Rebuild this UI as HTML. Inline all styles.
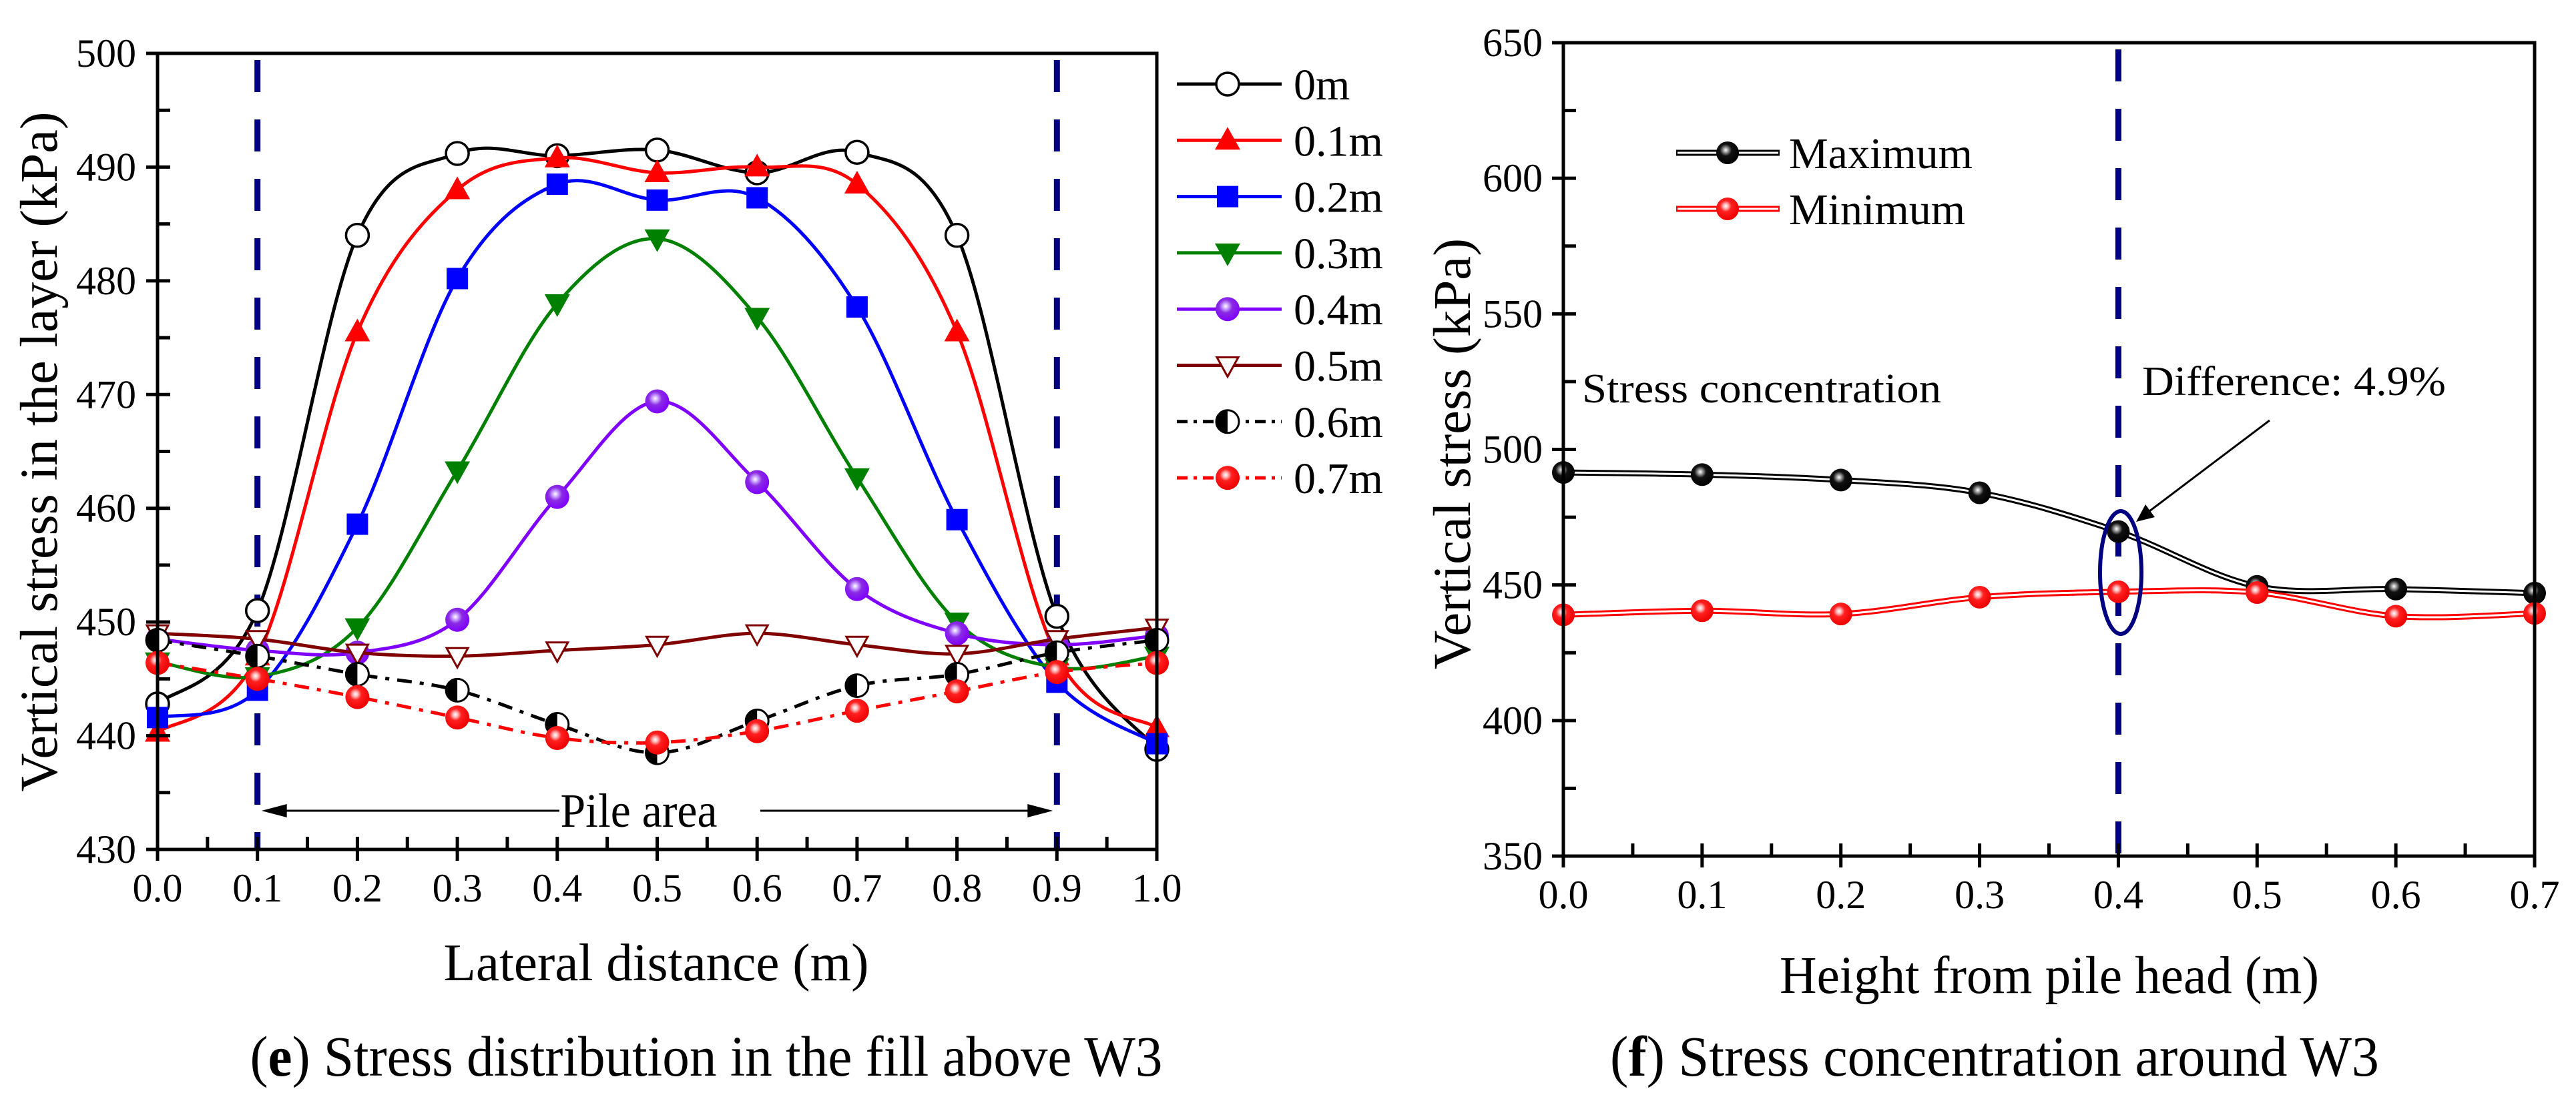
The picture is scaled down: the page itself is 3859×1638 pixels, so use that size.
<!DOCTYPE html>
<html><head><meta charset="utf-8">
<style>
html,body{margin:0;padding:0;background:#fff;}
svg{display:block;}
svg text{font-family:"Liberation Serif","DejaVu Serif",serif;fill:#000;}
</style></head>
<body>
<svg id="fig" width="3859" height="1638" viewBox="0 0 3859 1638" xmlns="http://www.w3.org/2000/svg" font-family="'Liberation Serif', 'DejaVu Serif', serif">
<defs>
<radialGradient id="gRed" cx="0.42" cy="0.38" r="0.62">
<stop offset="0" stop-color="#fff"/><stop offset="0.18" stop-color="#ffb0b0"/><stop offset="0.4" stop-color="#ff2020"/><stop offset="1" stop-color="#ee0000"/></radialGradient>
<radialGradient id="gBlk" cx="0.42" cy="0.38" r="0.62">
<stop offset="0" stop-color="#fff"/><stop offset="0.18" stop-color="#999"/><stop offset="0.42" stop-color="#111"/><stop offset="1" stop-color="#000"/></radialGradient>
<radialGradient id="gPur" cx="0.42" cy="0.38" r="0.62">
<stop offset="0" stop-color="#fff"/><stop offset="0.2" stop-color="#c9a0ff"/><stop offset="0.45" stop-color="#8a2be2"/><stop offset="1" stop-color="#7f00ff"/></radialGradient>
</defs>
<g id="left"></g>
<g id="right"></g>
</svg>
<script>
// ---- Left chart data ----
const lateralX = [0,0.1,0.2,0.3,0.4,0.5,0.6,0.7,0.8,0.9,1.0];
const s0m  = [442.8,451,484,491.2,491,491.5,489.5,491.3,484,450.5,438.8];
const s01m = [440.3,447,475.5,488,490.8,489.5,490,488.5,475.5,447,440.7];
const s02m = [441.6,444,458.6,480.2,488.5,487.1,487.3,477.7,459,444.7,439.3];
const s03m = [446.5,445.2,449.5,463.3,478,483.7,476.8,462.7,450,446,447];
const s04m = [448.5,447.5,447.3,450.2,461,469.4,462.3,452.9,449,448,448.8];
const s05m = [449,448.5,447.3,447,447.5,448,449,448,447.2,448.5,449.5];
const s06m = [448.4,447,445.4,444,441,438.5,441.3,444.4,445.4,447.3,448.4];
const s07m = [446.4,445,443.4,441.6,439.8,439.4,440.4,442.2,443.9,445.6,446.4];
const seriesNames = ["0m","0.1m","0.2m","0.3m","0.4m","0.5m","0.6m","0.7m"];
const leftXTicks = ["0.0","0.1","0.2","0.3","0.4","0.5","0.6","0.7","0.8","0.9","1.0"];
const leftYTicks = [430,440,450,460,470,480,490,500];
// ---- Right chart data ----
const heightX = [0,0.1,0.2,0.3,0.4,0.5,0.6,0.7];
const maxStress = [491.5,490.7,488.7,484,469.7,449.5,448.5,447];
const minStress = [439,440.5,439.3,445.5,447.5,447.2,438.5,439.5];
const rightXTicks = ["0.0","0.1","0.2","0.3","0.4","0.5","0.6","0.7"];
const rightYTicks = [350,400,450,500,550,600,650];

const NS="http://www.w3.org/2000/svg";
const FONT="'Liberation Serif', 'DejaVu Serif', serif";
function el(tag, attrs, parent){const e=document.createElementNS(NS,tag);for(const k in attrs)e.setAttribute(k,attrs[k]);if(tag==="text")e.setAttribute("font-family",FONT);parent.appendChild(e);return e;}
function spline(pts){
  let d=`M${pts[0][0]},${pts[0][1]}`;
  for(let i=0;i<pts.length-1;i++){
    const p0=pts[Math.max(0,i-1)],p1=pts[i],p2=pts[i+1],p3=pts[Math.min(pts.length-1,i+2)];
    const c1=[p1[0]+(p2[0]-p0[0])/6,p1[1]+(p2[1]-p0[1])/6];
    const c2=[p2[0]-(p3[0]-p1[0])/6,p2[1]-(p3[1]-p1[1])/6];
    d+=` C${c1[0]},${c1[1]} ${c2[0]},${c2[1]} ${p2[0]},${p2[1]}`;
  }
  return d;
}
function marker(g,type,x,y,color){
  let m;
  if(type==="circleOpen"){m=el("circle",{cx:x,cy:y,r:17,fill:"#fff",stroke:"#000","stroke-width":3.5},g);}
  else if(type==="triUp"){m=el("polygon",{points:`${x},${y-20} ${x-19},${y+14} ${x+19},${y+14}`,fill:color},g);}
  else if(type==="square"){m=el("rect",{x:x-16,y:y-16,width:32,height:32,fill:color},g);}
  else if(type==="triDown"){m=el("polygon",{points:`${x},${y+20} ${x-19},${y-14} ${x+19},${y-14}`,fill:color},g);}
  else if(type==="triDownOpen"){m=el("polygon",{points:`${x},${y+17} ${x-16},${y-12} ${x+16},${y-12}`,fill:"#fff",stroke:color,"stroke-width":3},g);}
  else if(type==="ball"){m=el("circle",{cx:x,cy:y,r:18,fill:color},g);}
  else if(type==="half"){
    m=el("g",{},g);
    el("circle",{cx:x,cy:y,r:17,fill:"#fff",stroke:"#000","stroke-width":3},m);
    el("path",{d:`M${x},${y-17} A17,17 0 0 0 ${x},${y+17} Z`,fill:"#000"},m);
  }
  return m;
}

// ================= LEFT CHART =================
(function(){
  const g=document.getElementById("left");
  const xL=236,xR=1733,yT=80,yB=1273,vMin=430,vMax=500;
  const X=v=>xL+(v-0)/(1-0)*(xR-xL);
  const Y=v=>yB-(v-vMin)/(vMax-vMin)*(yB-yT);
  [0.1,0.9].forEach(v=>{
    const l=el("line",{x1:X(v),y1:yT+10,x2:X(v),y2:yB,stroke:"#000080","stroke-width":9,"stroke-dasharray":"48 41"},g);
    
    
  });
  const arr=el("g",{},g);
  
  
  const ay=1215;
  el("line",{x1:X(0.1)+40,y1:ay,x2:838,y2:ay,stroke:"#000","stroke-width":3},arr);
  el("polygon",{points:`${X(0.1)+6},${ay} ${X(0.1)+44},${ay-10} ${X(0.1)+44},${ay+10}`,fill:"#000"},arr);
  el("line",{x1:1139,y1:ay,x2:X(0.9)-40,y2:ay,stroke:"#000","stroke-width":3},arr);
  el("polygon",{points:`${X(0.9)-6},${ay} ${X(0.9)-44},${ay-10} ${X(0.9)-44},${ay+10}`,fill:"#000"},arr);
  const pt=el("text",{x:957,y:ay+24,"font-size":72,"text-anchor":"middle",textLength:235,lengthAdjust:"spacingAndGlyphs"},arr);pt.textContent="Pile area";
  
  

  const series=[
    {vals:s0m,color:"#000",mk:"circleOpen",dash:null},
    {vals:s01m,color:"#ff0000",mk:"triUp",dash:null},
    {vals:s02m,color:"#0000ff",mk:"square",dash:null},
    {vals:s03m,color:"#008000",mk:"triDown",dash:null},
    {vals:s04m,color:"#8000ff",mk:"ball",fill:"url(#gPur)",dash:null},
    {vals:s05m,color:"#800000",mk:"triDownOpen",dash:null},
    {vals:s06m,color:"#000",mk:"half",dash:"22 12 6 12"},
    {vals:s07m,color:"#ff0000",mk:"ball",fill:"url(#gRed)",dash:"22 12 6 12"}
  ];
  series.forEach((s,i)=>{
    const sg=el("g",{},g);
    
    
    const pts=lateralX.map((x,j)=>[X(x),Y(s.vals[j])]);
    const a={d:spline(pts),fill:"none",stroke:s.color,"stroke-width":5};
    if(s.dash)a["stroke-dasharray"]=s.dash;
    el("path",a,sg);
    pts.forEach(p=>{
      const m=marker(sg,s.mk,p[0],p[1],s.fill||s.color);
      
      
    });
    const ly=126+i*84.3;
    const lg=el("g",{},g);
    
    
    const la={x1:1763,y1:ly,x2:1920,y2:ly,stroke:s.color,"stroke-width":5};
    if(s.dash)la["stroke-dasharray"]="16 9 5 9";
    el("line",la,lg);
    marker(lg,s.mk,1839,ly,s.fill||s.color);
    const t=el("text",{x:1938,y:ly+23,"font-size":66},lg);t.textContent=seriesNames[i];
  });

  const ax=el("rect",{x:xL,y:yT,width:xR-xL,height:yB-yT,fill:"none",stroke:"#000","stroke-width":5},g);
  
  
  for(let v=vMin;v<=vMax;v+=5){
    const major=(v%10===0);
    el("line",{x1:major?xL-17:xL,y1:Y(v),x2:xL+19,y2:Y(v),stroke:"#000","stroke-width":5},g);
  }
  leftYTicks.forEach(v=>{
    const t=el("text",{x:204,y:Y(v)+20,"font-size":60,"text-anchor":"end"},g);t.textContent=v;
    
    
  });
  for(let k=0;k<=20;k++){
    const v=k*0.05,major=(k%2===0);
    el("line",{x1:X(v),y1:yB-19,x2:X(v),y2:major?yB+17:yB,stroke:"#000","stroke-width":5},g);
  }
  leftXTicks.forEach((lab,j)=>{
    const t=el("text",{x:X(lateralX[j]),y:1351,"font-size":60,"text-anchor":"middle"},g);t.textContent=lab;
    
    
  });
  const xt=el("text",{x:983,y:1469,"font-size":79,"text-anchor":"middle",textLength:637,lengthAdjust:"spacingAndGlyphs"},g);
  xt.textContent="Lateral distance (m)";
  
  
  const yt=el("text",{x:0,y:0,"font-size":79,"text-anchor":"middle",textLength:1019,lengthAdjust:"spacingAndGlyphs",transform:"translate(85,677) rotate(-90)"},g);
  yt.textContent="Vertical stress in the layer (kPa)";
  
  
  const cap=el("text",{x:1058,y:1612,"font-size":86,"text-anchor":"middle",textLength:1367,lengthAdjust:"spacingAndGlyphs"},g);
  cap.innerHTML='(<tspan font-weight="bold">e</tspan>) Stress distribution in the fill above W3';
  
  
})();

// ================= RIGHT CHART =================
(function(){
  const g=document.getElementById("right");
  const xL=2342,xR=3797,yT=64,yB=1283,vMin=350,vMax=650,hMax=0.7;
  const X=v=>xL+v/hMax*(xR-xL);
  const Y=v=>yB-(v-vMin)/(vMax-vMin)*(yB-yT);
  const dl=el("line",{x1:X(0.4),y1:yT+10,x2:X(0.4),y2:yB,stroke:"#000080","stroke-width":9,"stroke-dasharray":"48 41"},g);
  
  
  const sets=[{vals:maxStress,color:"#000",fill:"url(#gBlk)",name:"maximum"},{vals:minStress,color:"#ff0000",fill:"url(#gRed)",name:"minimum"}];
  sets.forEach(s=>{
    const sg=el("g",{},g);
    
    
    const pts=heightX.map((x,j)=>[X(x),Y(s.vals[j])]);
    const d=spline(pts);
    el("path",{d:d,fill:"none",stroke:s.color,"stroke-width":9},sg);
    el("path",{d:d,fill:"none",stroke:"#fff","stroke-width":3},sg);
    pts.forEach(p=>{
      const m=el("circle",{cx:p[0],cy:p[1],r:17,fill:s.fill},sg);
      
      
    });
  });
  const an=el("g",{},g);
  
  
  el("ellipse",{cx:3177,cy:858,rx:31,ry:92,fill:"none",stroke:"#000080","stroke-width":6},an);
  el("line",{x1:3400,y1:630,x2:3220,y2:766,stroke:"#000","stroke-width":3},an);
  el("polygon",{points:"3200,782 3214,756 3228,775",fill:"#000"},an);
  const dt=el("text",{x:3209,y:592,"font-size":62,textLength:455,lengthAdjust:"spacingAndGlyphs"},an);dt.textContent="Difference: 4.9%";
  const sc=el("text",{x:2370,y:603,"font-size":62,textLength:538,lengthAdjust:"spacingAndGlyphs"},g);sc.textContent="Stress concentration";
  
  
  [["Maximum","#000","url(#gBlk)",229],["Minimum","#ff0000","url(#gRed)",313]].forEach(L=>{
    const lg=el("g",{},g);
    
    
    el("line",{x1:2511,y1:L[3],x2:2666,y2:L[3],stroke:L[1],"stroke-width":9},lg);
    el("line",{x1:2513,y1:L[3],x2:2664,y2:L[3],stroke:"#fff","stroke-width":3},lg);
    el("circle",{cx:2588,cy:L[3],r:17,fill:L[2]},lg);
    const t=el("text",{x:2680,y:L[3]+23,"font-size":66},lg);t.textContent=L[0];
  });
  const ax=el("rect",{x:xL,y:yT,width:xR-xL,height:yB-yT,fill:"none",stroke:"#000","stroke-width":5},g);
  
  
  for(let v=vMin;v<=vMax;v+=25){
    const major=(v%50===0);
    el("line",{x1:major?xL-17:xL,y1:Y(v),x2:xL+19,y2:Y(v),stroke:"#000","stroke-width":5},g);
  }
  rightYTicks.forEach(v=>{
    const t=el("text",{x:2311,y:Y(v)+20,"font-size":60,"text-anchor":"end"},g);t.textContent=v;
    
    
  });
  for(let k=0;k<=14;k++){
    const v=k*0.05,major=(k%2===0);
    el("line",{x1:X(v),y1:yB-19,x2:X(v),y2:major?yB+17:yB,stroke:"#000","stroke-width":5},g);
  }
  rightXTicks.forEach((lab,j)=>{
    const t=el("text",{x:X(heightX[j]),y:1361,"font-size":60,"text-anchor":"middle"},g);t.textContent=lab;
    
    
  });
  const xt=el("text",{x:3070,y:1488,"font-size":79,"text-anchor":"middle",textLength:808,lengthAdjust:"spacingAndGlyphs"},g);
  xt.textContent="Height from pile head (m)";
  
  
  const yt=el("text",{x:0,y:0,"font-size":79,"text-anchor":"middle",textLength:646,lengthAdjust:"spacingAndGlyphs",transform:"translate(2202,680) rotate(-90)"},g);
  yt.textContent="Vertical stress (kPa)";
  
  
  const cap=el("text",{x:2988,y:1612,"font-size":86,"text-anchor":"middle",textLength:1152,lengthAdjust:"spacingAndGlyphs"},g);
  cap.innerHTML='(<tspan font-weight="bold">f</tspan>) Stress concentration around W3';
  
  
})();
</script>
</body></html>
